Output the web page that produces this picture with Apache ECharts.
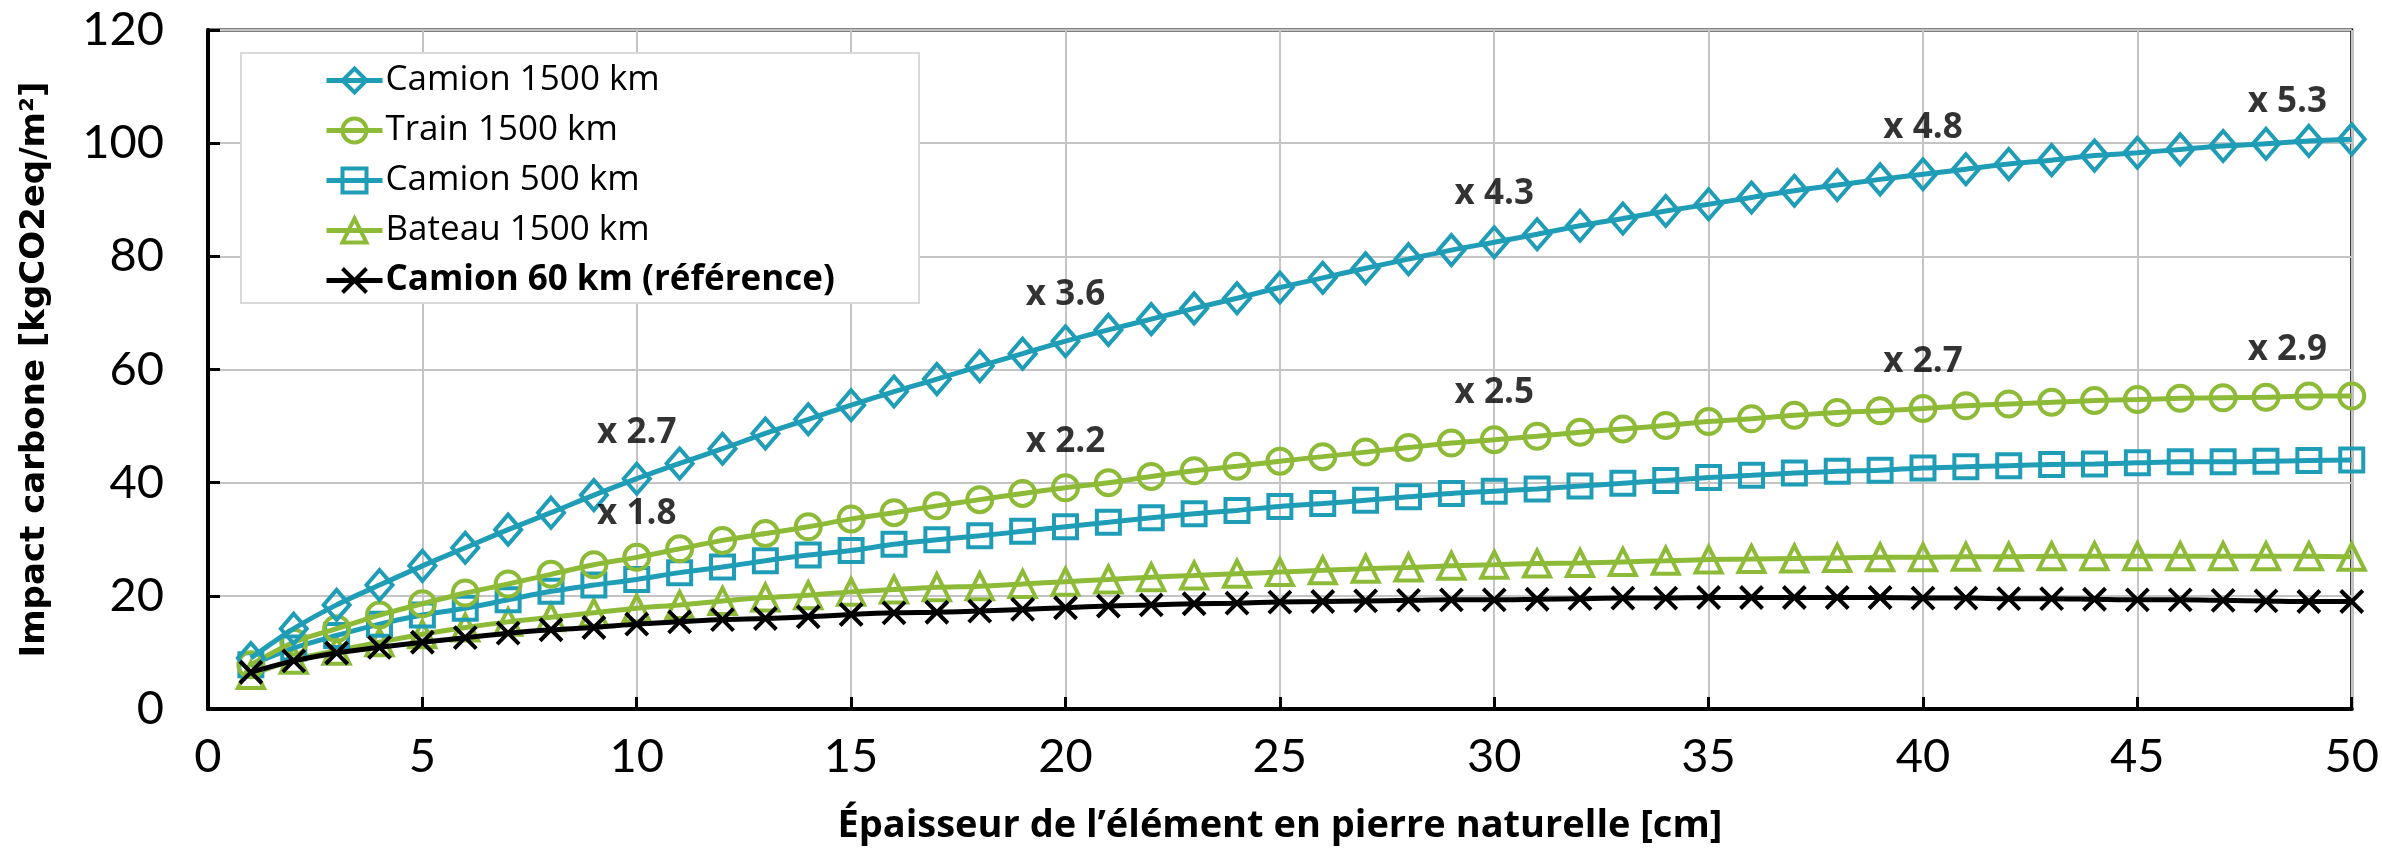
<!DOCTYPE html>
<html>
<head>
<meta charset="utf-8">
<script src="https://cdn.jsdelivr.net/npm/echarts@6/dist/echarts.min.js"></script>
<style>
  html, body { margin: 0; padding: 0; background: #ffffff; }
  #chart { width: 2382px; height: 852px; }
</style>
</head>
<body>
<div id="chart"></div>
<script>
// ---- Data ----
const thickness = [1,2,3,4,5,6,7,8,9,10,11,12,13,14,15,16,17,18,19,20,21,22,23,24,25,26,27,28,29,30,31,32,33,34,35,36,37,38,39,40,41,42,43,44,45,46,47,48,49,50];

const seriesNames = ['Camion 1500 km', 'Train 1500 km', 'Camion 500 km', 'Bateau 1500 km', 'Camion 60 km (référence)'];

const camion1500 = [9.0,14.2,18.4,21.9,25.3,28.5,31.7,34.7,37.8,40.7,
                    43.4,46.0,48.7,51.2,53.7,56.1,58.3,60.6,62.8,65.0,
                    67.0,68.9,70.8,72.6,74.5,76.2,77.9,79.5,81.1,82.5,
                    83.9,85.4,86.7,88.0,89.2,90.4,91.6,92.6,93.6,94.5,
                    95.4,96.3,97.0,97.8,98.3,98.9,99.5,99.9,100.4,100.7];

const train1500 = [7.8,11.8,14.2,16.6,18.6,20.5,22.1,23.8,25.5,26.8,
                   28.3,29.8,31.0,32.2,33.6,34.7,35.9,37.0,38.1,39.1,
                   40.0,41.1,42.1,42.9,43.8,44.6,45.4,46.2,47.0,47.6,
                   48.2,48.9,49.5,50.1,50.8,51.3,51.9,52.4,52.7,53.1,
                   53.6,53.9,54.2,54.5,54.7,54.9,55.0,55.1,55.3,55.3];

const camion500 = [7.8,10.8,13.0,15.0,16.6,17.8,19.3,20.8,21.9,22.9,
                   24.1,25.1,26.2,27.2,28.0,29.1,29.9,30.6,31.4,32.2,
                   33.0,33.8,34.5,35.1,35.8,36.3,36.9,37.5,38.1,38.5,
                   38.9,39.4,39.9,40.4,40.9,41.3,41.7,42.0,42.2,42.6,
                   42.8,43.0,43.2,43.3,43.5,43.7,43.7,43.8,43.9,44.0];

const bateau1500 = [6.0,8.7,10.3,11.8,13.2,14.4,15.4,16.2,17.0,17.8,
                    18.4,19.1,19.7,20.1,20.7,21.1,21.5,21.7,22.1,22.5,
                    22.9,23.3,23.6,23.9,24.2,24.5,24.8,25.0,25.3,25.5,
                    25.7,25.8,26.0,26.2,26.4,26.5,26.6,26.7,26.8,26.8,
                    26.9,26.9,27.0,27.0,27.0,27.0,27.0,27.0,27.0,26.9];

const camion60 = [6.5,8.5,9.9,10.9,11.8,12.6,13.4,14.0,14.4,15.0,
                  15.4,15.8,16.0,16.3,16.7,17.0,17.1,17.3,17.6,17.9,
                  18.2,18.4,18.6,18.7,18.9,19.0,19.1,19.2,19.3,19.3,
                  19.4,19.5,19.6,19.6,19.7,19.7,19.7,19.7,19.7,19.6,
                  19.6,19.5,19.5,19.4,19.3,19.3,19.2,19.1,19.0,19.0];

// Ratio annotations (position in data units, text)
const annotX = [10, 10, 20, 20, 30, 30, 40, 40, 48.5, 48.5];
const annotY = [48.7, 34.5, 73.2, 47.2, 91.0, 55.8, 102.7, 61.4, 107.2, 63.4];
const annotText = ['x 2.7', 'x 1.8', 'x 3.6', 'x 2.2', 'x 4.3', 'x 2.5', 'x 4.8', 'x 2.7', 'x 5.3', 'x 2.9'];

// Axis ticks
const xMin = 0, xMax = 50, xStep = 5;
const yMin = 0, yMax = 120, yStep = 20;

// ---- Styling ----
const TEAL = '#1f9db6';
const GREEN = '#8dbb38';
const BLACK = '#000000';
const FONT = '"Open Sans", Lato, sans-serif';
const TICKFONT = '"Liberation Sans Narrow", Lato, sans-serif';

function pairs(ys) { return thickness.map((x, i) => [x, ys[i]]); }

function lineSeries(name, ys, color, symbol, size, z, bw) {
  return {
    name: name,
    type: 'line',
    data: pairs(ys),
    smooth: 0.3,
    symbol: symbol,
    symbolSize: size,
    showAllSymbol: true,
    z: z,
    lineStyle: { color: color, width: 5 },
    itemStyle: { color: 'rgba(0,0,0,0)', borderColor: color, borderWidth: bw },
    emphasis: { disabled: true }
  };
}

const chart = echarts.init(document.getElementById('chart'), null, { renderer: 'canvas' });

const option = {
  backgroundColor: '#ffffff',
  animation: false,
  grid: {
    left: 208, right: 26, top: 30, bottom: 143,
    show: true, borderColor: BLACK, borderWidth: 3, backgroundColor: 'transparent'
  },
  graphic: [{
    type: 'rect',
    shape: { x: 241, y: 53, width: 678, height: 250 },
    style: { fill: '#ffffff', stroke: '#d9d9d9', lineWidth: 2 },
    z: 3
  }],
  legend: {
    orient: 'vertical',
    left: 324, top: 63,
    padding: 0,
    itemWidth: 56, itemHeight: 30,
    itemGap: 15,
    z: 5,
    lineStyle: { width: 5 },
    itemStyle: { borderWidth: 4 },
    textStyle: { fontFamily: FONT, fontSize: 35, fontWeight: 500, color: '#000', lineHeight: 30, padding: [0, 0, 0, -2] },
    data: [
      { name: seriesNames[0] },
      { name: seriesNames[1] },
      { name: seriesNames[2] },
      { name: seriesNames[3] },
      { name: seriesNames[4], textStyle: { fontWeight: 'bold' } }
    ]
  },
  xAxis: {
    type: 'value',
    min: xMin, max: xMax, interval: xStep,
    name: 'Épaisseur de l\u2019élément en pierre naturelle [cm]',
    nameLocation: 'middle',
    nameGap: 98,
    nameTextStyle: { fontFamily: FONT, fontSize: 38, fontWeight: 'bold', color: '#000' },
    axisLine: { show: true, onZero: false, lineStyle: { color: BLACK, width: 4 } },
    axisTick: { show: true, inside: true, length: 12, lineStyle: { color: BLACK, width: 3 } },
    axisLabel: { fontFamily: TICKFONT, fontSize: 47, color: '#000', margin: 24 },
    splitLine: { show: true, lineStyle: { color: '#c4c4c4', width: 2 } }
  },
  yAxis: {
    type: 'value',
    min: yMin, max: yMax, interval: yStep,
    name: 'Impact carbone [kgCO2eq/m²]',
    nameLocation: 'middle',
    nameGap: 156,
    nameTextStyle: { fontFamily: '"DejaVu Sans", sans-serif', fontSize: 34, fontWeight: 'bold', color: '#000' },
    axisLine: { show: true, onZero: false, lineStyle: { color: BLACK, width: 4 } },
    axisTick: { show: true, inside: true, length: 12, lineStyle: { color: BLACK, width: 3 } },
    axisLabel: { fontFamily: TICKFONT, fontSize: 47, color: '#000', margin: 44 },
    splitLine: { show: true, lineStyle: { color: '#c4c4c4', width: 2 } }
  },
  series: [
    lineSeries(seriesNames[0], camion1500, TEAL, 'diamond', [26, 30], 6, 4),
    lineSeries(seriesNames[1], train1500, GREEN, 'circle', 25, 5, 4),
    lineSeries(seriesNames[2], camion500, TEAL, 'rect', 23, 4, 4),
    lineSeries(seriesNames[3], bateau1500, GREEN, 'triangle', 26, 3, 4),
    lineSeries(seriesNames[4], camion60, BLACK, 'path://M0,0L10,10M10,0L0,10', 22, 7, 4),
    {
      name: 'annotations',
      type: 'scatter',
      data: annotX.map((x, i) => [x, annotY[i], annotText[i]]),
      symbolSize: 1,
      itemStyle: { color: 'rgba(0,0,0,0)' },
      z: 8,
      label: {
        show: true,
        position: 'inside',
        formatter: p => p.data[2],
        fontFamily: FONT, fontSize: 35, fontWeight: 'bold', color: '#000'
      },
      emphasis: { disabled: true },
      silent: true
    }
  ]
};

chart.setOption(option);
</script>
</body>
</html>
